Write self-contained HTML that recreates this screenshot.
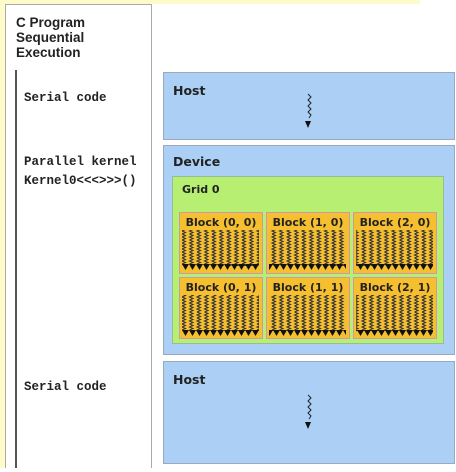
<!DOCTYPE html>
<html><head><style>
body{margin:0;background:#fff;width:456px;height:468px;overflow:hidden;font-family:"DejaVu Sans","Liberation Sans",sans-serif}
</style></head><body>
<svg width="456" height="468" xmlns="http://www.w3.org/2000/svg">
<defs>
<pattern id="zz" x="0" y="0" width="7.5" height="6" patternUnits="userSpaceOnUse">
<path d="M2 0 L5.5 1.5 L2 3 L5.5 4.5 L2 6" fill="none" stroke="#333" stroke-width="1.1"/>
</pattern>
<pattern id="ar" x="0" y="0" width="7" height="6" patternUnits="userSpaceOnUse">
<path d="M0 0 L7 0 L3.5 6 Z" fill="#111"/>
</pattern>
</defs>
<rect x="0" y="0" width="456" height="468" fill="#fff"/>
<rect x="0" y="0" width="420" height="4" fill="#fdfbc8"/>
<rect x="0" y="0" width="5" height="468" fill="#fdfbc8"/>
<rect x="5.5" y="4.5" width="146" height="470" fill="#fff" stroke="#aaa"/>
<line x1="16" y1="70" x2="16" y2="468" stroke="#555" stroke-width="2"/>
<g font-family="Liberation Sans,sans-serif" font-size="13.5" font-weight="bold" fill="#222">
<text x="16" y="27">C Program</text>
<text x="16" y="42">Sequential</text>
<text x="16" y="57">Execution</text>
</g>
<g font-family="Liberation Mono,monospace" font-size="12.5" font-weight="bold" fill="#222">
<text x="24" y="101">Serial code</text>
<text x="24" y="165">Parallel kernel</text>
<text x="24" y="184">Kernel0&lt;&lt;&lt;&gt;&gt;&gt;()</text>
<text x="24" y="390">Serial code</text>
</g>
<rect x="163.5" y="72.5" width="291" height="67" fill="#acd0f5" stroke="#9ab"/>
<text x="173" y="95" font-size="12.5" font-weight="bold" fill="#222">Host</text>
<path d="M308 94 l3 3 l-3 3 l3 3 l-3 3 l3 3 l-3 3 l3 3 l-2 3" fill="none" stroke="#222"/>
<path d="M305 121 l6 0 l-3 7z" fill="#111"/>
<rect x="163.5" y="145.5" width="291" height="209" fill="#acd0f5" stroke="#9ab"/>
<text x="173" y="166" font-size="12.5" font-weight="bold" fill="#222">Device</text>
<rect x="172.5" y="176.5" width="271" height="167" fill="#b7ef72" stroke="#9b9"/>
<text x="182" y="193" font-size="11" font-weight="bold" fill="#222">Grid 0</text>
<g>
<rect x="179.5" y="212.5" width="83" height="61" fill="#f5bf30" stroke="#c9a"/>
<rect x="266.5" y="212.5" width="83" height="61" fill="#f5bf30" stroke="#c9a"/>
<rect x="353.5" y="212.5" width="83" height="61" fill="#f5bf30" stroke="#c9a"/>
<rect x="179.5" y="277.5" width="83" height="61" fill="#f5bf30" stroke="#c9a"/>
<rect x="266.5" y="277.5" width="83" height="61" fill="#f5bf30" stroke="#c9a"/>
<rect x="353.5" y="277.5" width="83" height="61" fill="#f5bf30" stroke="#c9a"/>
<g fill="url(#zz)">
<rect x="182" y="230" width="77" height="36"/>
<rect x="269" y="230" width="77" height="36"/>
<rect x="356" y="230" width="77" height="36"/>
<rect x="182" y="295" width="77" height="36"/>
<rect x="269" y="295" width="77" height="36"/>
<rect x="356" y="295" width="77" height="36"/>
</g>
<g fill="url(#ar)">
<rect x="182" y="264" width="77" height="6"/>
<rect x="269" y="264" width="77" height="6"/>
<rect x="356" y="264" width="77" height="6"/>
<rect x="182" y="330" width="77" height="6"/>
<rect x="269" y="330" width="77" height="6"/>
<rect x="356" y="330" width="77" height="6"/>
</g>
<g font-size="11" font-weight="bold" fill="#222" text-anchor="middle">
<text x="221" y="226">Block (0, 0)</text>
<text x="308" y="226">Block (1, 0)</text>
<text x="395" y="226">Block (2, 0)</text>
<text x="221" y="291">Block (0, 1)</text>
<text x="308" y="291">Block (1, 1)</text>
<text x="395" y="291">Block (2, 1)</text>
</g>
</g>
<rect x="163.5" y="361.5" width="291" height="102" fill="#acd0f5" stroke="#9ab"/>
<text x="173" y="384" font-size="12.5" font-weight="bold" fill="#222">Host</text>
<path d="M308 395 l3 3 l-3 3 l3 3 l-3 3 l3 3 l-3 3 l3 3 l-2 3" fill="none" stroke="#222"/>
<path d="M305 422 l6 0 l-3 7z" fill="#111"/>
</svg>
</body></html>
